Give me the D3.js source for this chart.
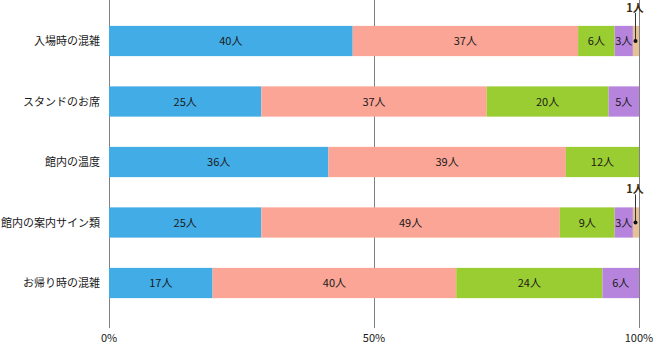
<!DOCTYPE html>
<html><head><meta charset="utf-8">
<script src="https://cdn.jsdelivr.net/npm/d3@7"></script>
<style>body{margin:0;background:#fff}svg{display:block}text{font-family:"Noto Sans CJK JP","Noto Sans",sans-serif;font-size:11px;fill:#1a1a1a}</style>
</head><body>
<script>
const categories = ["入場時の混雑","スタンドのお席","館内の温度","館内の案内サイン類","お帰り時の混雑"];
const s1 = [40,25,36,25,17];
const s2 = [37,37,39,49,40];
const s3 = [6,20,12,9,24];
const s4 = [3,5,0,3,6];
const s5 = [1,0,0,1,0];
const tickLabels = ["0%","50%","100%"];
const tickValues = [0,0.5,1];
const colors = ["#42ace6","#fba596","#9acd32","#b784dd","#e6c196"];
const series = [s1,s2,s3,s4,s5];

const W=657,H=347;
const svg=d3.select("body").append("svg").attr("width",W).attr("height",H);
const x=d3.scaleLinear().domain([0,1]).range([109,639]);
const y=d3.scaleBand().domain(categories).range([10.75,313.25]).paddingInner(0.5).paddingOuter(0.25);

svg.append("g").selectAll("line").data(tickValues).join("line")
 .attr("x1",d=>Math.round(x(d))+0.5).attr("x2",d=>Math.round(x(d))+0.5)
 .attr("y1",0).attr("y2",328).attr("stroke","#808080").attr("stroke-width",1);
svg.append("g").selectAll("text").data(tickValues).join("text")
 .attr("x",d=>x(d)).attr("y",342).attr("text-anchor","middle").text((d,i)=>tickLabels[i]);

categories.forEach((c,ci)=>{
  const total=d3.sum(series,s=>s[ci]);
  let acc=0;
  series.forEach((s,si)=>{
    const v=s[ci]; if(!v) return;
    const x0=x(acc/total), x1=x((acc+v)/total);
    acc+=v;
    svg.append("rect").attr("x",x0).attr("y",y(c)).attr("width",x1-x0).attr("height",y.bandwidth()).attr("fill",colors[si]);
    const cy=y(c)+y.bandwidth()/2;
    if(si<4){
      svg.append("text").attr("x",(x0+x1)/2).attr("y",cy+4).attr("text-anchor","middle").text(v+"人");
    } else {
      const mx=Math.round((x0+x1)/2-1)+0.5;
      svg.append("line").attr("x1",mx).attr("x2",mx).attr("y1",cy).attr("y2",y(c)-13).attr("stroke","#333").attr("stroke-width",1);
      svg.append("circle").attr("cx",mx).attr("cy",cy).attr("r",2).attr("fill","#111");
      svg.append("text").attr("x",mx-0.5).attr("y",y(c)-14).attr("text-anchor","middle")
        .style("font-weight","bold").style("fill","#3a2a10").text(v+"人");
    }
  });
  svg.append("text").attr("x",100).attr("y",y(c)+y.bandwidth()/2+4).attr("text-anchor","end").text(c);
});
</script>
</body></html>
